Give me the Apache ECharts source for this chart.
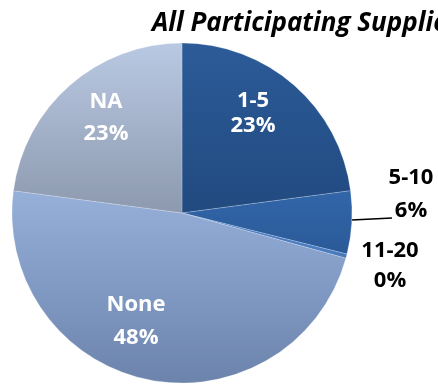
<!DOCTYPE html>
<html>
<head>
<meta charset="utf-8">
<script src="https://cdn.jsdelivr.net/npm/echarts@6/dist/echarts.min.js"></script>
<style>
  html, body { margin: 0; padding: 0; background: #ffffff; }
  #chart { width: 438px; height: 385px; }
</style>
</head>
<body>
<div id="chart"></div>
<script>
// Supplier counts, share of all participating suppliers (percent)
const categories = ['1-5', '5-10', '11-20', 'None', 'NA'];
const shares = [23, 6, 0.4, 48, 23];
const chartTitle = 'All Participating Suppliers';

// Per-slice fill: vertical shading from top colour to bottom colour
const sliceColors = [
  ['#2c5b98', '#214a80'],
  ['#3267ab', '#2a5895'],
  ['#4a7cc0', '#3f70b2'],
  ['#96b0da', '#6c84ac'],
  ['#bac9e3', '#8c99ae']
];
// Vertical extent (px) of each slice's shading
const shadeSpan = [[43, 213], [185, 262], [250, 265], [190, 383], [43, 213]];

// Label placement: [x, y, lineHeight, colour, labelLine]
const labelSpots = [
  [253, 113, 25, '#ffffff', false],
  [411, 194, 33, '#000000', true],
  [390, 266, 30, '#000000', false],
  [136, 321, 33, '#ffffff', false],
  [106, 118, 32, '#ffffff', false]
];

const chart = echarts.init(document.getElementById('chart'), null, { renderer: 'canvas' });

const data = categories.map((name, i) => ({
  name: name,
  value: shares[i],
  itemStyle: {
    color: {
      type: 'linear', global: true,
      x: 0, y: shadeSpan[i][0], x2: 0, y2: shadeSpan[i][1],
      colorStops: [
        { offset: 0, color: sliceColors[i][0] },
        { offset: 1, color: sliceColors[i][1] }
      ]
    }
  },
  label: {
    position: labelSpots[i][4] ? 'outside' : 'inside',
    color: labelSpots[i][3],
    lineHeight: labelSpots[i][2]
  },
  labelLine: { show: labelSpots[i][4] }
}));

chart.setOption({
  animation: false,
  backgroundColor: '#ffffff',
  title: {
    text: chartTitle,
    left: 147,
    top: 6,
    textStyle: {
      fontFamily: 'Open Sans',
      fontSize: 26,
      fontWeight: 'bold',
      fontStyle: 'italic',
      color: '#000000'
    }
  },
  series: [{
    type: 'pie',
    center: [182, 213],
    radius: [0, 170],
    startAngle: 90,
    clockwise: true,
    percentPrecision: 0,
    data: data,
    itemStyle: {
      borderColor: 'rgba(255,255,255,0.35)',
      borderWidth: 0.6
    },
    label: {
      show: true,
      formatter: '{b}\n{d}%',
      fontFamily: 'Open Sans',
      fontWeight: 'bold',
      fontSize: 22,
      align: 'center',
      overflow: 'none'
    },
    labelLine: {
      lineStyle: { color: '#000000', width: 1.6 }
    },
    labelLayout: function (params) {
      const s = labelSpots[params.dataIndex];
      const out = { x: s[0], y: s[1], align: 'center', verticalAlign: 'middle' };
      if (s[4]) {
        out.labelLinePoints = [[352, 220], [372, 219], [392, 218]];
      }
      return out;
    },
    emphasis: { disabled: true }
  }]
});
</script>
</body>
</html>
